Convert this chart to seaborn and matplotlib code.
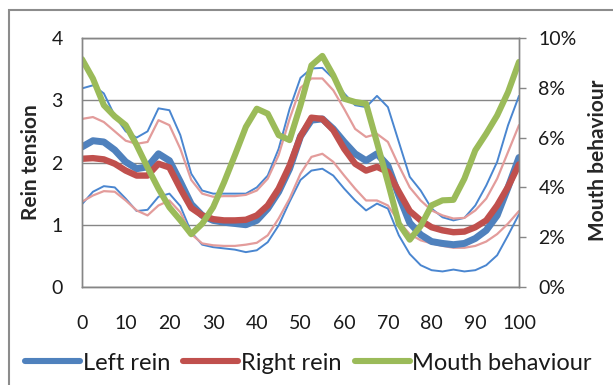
import matplotlib
matplotlib.use("Agg")
import matplotlib.pyplot as plt
from matplotlib.lines import Line2D
from matplotlib.patches import Rectangle
from matplotlib.ticker import PercentFormatter
import seaborn as sns

# stride position (% of cycle)
stride = [0, 2.5, 5, 7.5, 10, 12.5, 15, 17.5, 20, 22.5, 25, 27.5, 30, 32.5, 35, 37.5,
          40, 42.5, 45, 47.5, 50, 52.5, 55, 57.5, 60, 62.5, 65, 67.5, 70, 72.5, 75,
          77.5, 80, 82.5, 85, 87.5, 90, 92.5, 95, 97.5, 100]

# rein tension, mean and +/- band
left_mean = [2.25, 2.35, 2.33, 2.2, 2.01, 1.9, 1.93, 2.14, 2.03, 1.69, 1.33, 1.15, 1.07, 1.04,
             1.02, 1.0, 1.07, 1.26, 1.53, 1.9, 2.42, 2.68, 2.70, 2.54, 2.33, 2.14, 2.03, 2.14,
             1.95, 1.47, 1.03, 0.84, 0.73, 0.70, 0.68, 0.70, 0.78, 0.91, 1.15, 1.6, 2.08]
left_upper = [3.19, 3.24, 3.11, 2.75, 2.5, 2.4, 2.5, 2.87, 2.84, 2.44, 1.82, 1.55, 1.5, 1.5,
              1.5, 1.5, 1.6, 1.79, 2.22, 2.86, 3.36, 3.51, 3.52, 3.35, 3.11, 2.92, 2.89, 3.07,
              2.89, 2.33, 1.77, 1.55, 1.26, 1.12, 1.07, 1.11, 1.31, 1.63, 2.01, 2.6, 3.07]
left_lower = [1.33, 1.53, 1.62, 1.6, 1.42, 1.22, 1.24, 1.45, 1.5, 1.3, 0.88, 0.68, 0.64, 0.62,
              0.6, 0.56, 0.59, 0.72, 0.99, 1.37, 1.72, 1.87, 1.9, 1.79, 1.58, 1.39, 1.23, 1.34,
              1.26, 0.83, 0.53, 0.35, 0.27, 0.25, 0.28, 0.25, 0.27, 0.35, 0.51, 0.83, 1.17]
right_mean = [2.06, 2.07, 2.05, 1.98, 1.87, 1.79, 1.79, 1.98, 1.92, 1.58, 1.27, 1.15, 1.09, 1.07,
              1.07, 1.08, 1.15, 1.31, 1.58, 1.95, 2.42, 2.72, 2.70, 2.52, 2.22, 1.98, 1.87, 1.93,
              1.85, 1.53, 1.22, 1.07, 0.96, 0.91, 0.88, 0.89, 0.96, 1.07, 1.31, 1.61, 1.97]
right_upper = [2.7, 2.73, 2.65, 2.5, 2.35, 2.3, 2.33, 2.68, 2.6, 2.22, 1.72, 1.5, 1.45, 1.46,
               1.46, 1.48, 1.55, 1.74, 2.12, 2.7, 3.2, 3.35, 3.35, 3.16, 2.86, 2.54, 2.41, 2.46,
               2.33, 1.95, 1.6, 1.39, 1.23, 1.15, 1.1, 1.11, 1.23, 1.42, 1.74, 2.17, 2.6]
right_lower = [1.37, 1.47, 1.54, 1.53, 1.39, 1.23, 1.15, 1.31, 1.39, 1.2, 0.85, 0.7, 0.67, 0.66,
               0.66, 0.68, 0.71, 0.83, 1.1, 1.42, 1.82, 2.09, 2.14, 2.01, 1.79, 1.58, 1.39, 1.39,
               1.31, 1.05, 0.85, 0.75, 0.7, 0.66, 0.63, 0.63, 0.66, 0.73, 0.85, 1.02, 1.22]

# mouth behaviour (% of time)
mouth = [9.15, 8.37, 7.3, 6.85, 6.5, 5.7, 4.8, 3.95, 3.2, 2.68, 2.12, 2.54, 3.2, 4.2, 5.3, 6.43,
         7.16, 6.96, 6.1, 5.9, 7.3, 8.9, 9.28, 8.5, 7.56, 7.43, 7.36, 5.8, 4.2, 2.54, 1.9, 2.45,
         3.28, 3.48, 3.5, 4.35, 5.49, 6.16, 6.89, 7.83, 9.04]

x_ticks = [0, 10, 20, 30, 40, 50, 60, 70, 80, 90, 100]
labels = ['Left rein', 'Right rein', 'Mouth behaviour']

BLUE = '#4F81BD'
RED = '#C0504D'
GREEN = '#9BBB59'
THIN_BLUE = '#4A86D0'
PINK = '#E39C9B'
GREY = '#868686'

sns.set_style('white')
plt.rcParams['font.family'] = ['Lato', 'DejaVu Sans']
plt.rcParams['text.color'] = '#1a1a1a'

W, H = 613, 385
fig = plt.figure(figsize=(W / 100, H / 100), dpi=100)
ax = fig.add_axes([82 / W, 1 - 287 / H, (519 - 82) / W, (287 - 38) / H])

# thin band lines first, thick means on top
sns.lineplot(x=stride, y=left_upper, ax=ax, color=THIN_BLUE, lw=1.4)
sns.lineplot(x=stride, y=left_lower, ax=ax, color=THIN_BLUE, lw=1.4)
sns.lineplot(x=stride, y=right_upper, ax=ax, color=PINK, lw=1.6)
sns.lineplot(x=stride, y=right_lower, ax=ax, color=PINK, lw=1.6)
sns.lineplot(x=stride, y=left_mean, ax=ax, color=BLUE, lw=5)
sns.lineplot(x=stride, y=right_mean, ax=ax, color=RED, lw=4.6)

ax.set_xlim(0, 100)
ax.set_ylim(0, 4)
ax.set_xticks(x_ticks)
ax.set_yticks([0, 1, 2, 3, 4])
ax.grid(axis='y', color=GREY, lw=1)
ax.grid(axis='x', visible=False)
ax.tick_params(axis='y', length=0, pad=14, labelsize=14, labelcolor='#1a1a1a')
ax.tick_params(axis='x', length=0, pad=20, labelsize=14, labelcolor='#1a1a1a')
for s in ax.spines.values():
    s.set_color(GREY)
    s.set_linewidth(1)
ax.set_xlabel('')
ax.set_ylabel('Rein tension', fontsize=15, fontweight='bold')
ax.yaxis.set_label_coords(-0.093, 0.50)

ax2 = ax.twinx()
sns.lineplot(x=stride, y=mouth, ax=ax2, color=GREEN, lw=4.4)
ax2.set_ylim(0, 10)
ax2.set_yticks([0, 2, 4, 6, 8, 10])
ax2.yaxis.set_major_formatter(PercentFormatter(xmax=100, decimals=0))
ax2.tick_params(axis='y', direction='out', length=5, width=1, color=GREY,
                pad=9, labelsize=14, labelcolor='#1a1a1a')
ax2.grid(False)
for s in ax2.spines.values():
    s.set_color(GREY)
    s.set_linewidth(1)
ax2.set_ylabel('Mouth behaviour', fontsize=15, fontweight='bold')
ax2.yaxis.set_label_coords(1.158, 0.508)

handles = [Line2D([], [], color=c, lw=4.4, solid_capstyle='round') for c in (BLUE, RED, GREEN)]
fs = 17
fig.legend(handles, labels, loc='center left', bbox_to_anchor=(25 / W, 1 - 363 / H),
           ncol=3, frameon=False, fontsize=fs, handlelength=55 / (fs / 0.72),
           handletextpad=0.12, columnspacing=0.55, borderpad=0, borderaxespad=0)

# outer chart border (cut off at right/bottom in the source)
fig.patches.append(Rectangle((9 / W, -0.05), 1.2, 1 - 10 / H + 0.05, transform=fig.transFigure,
                             fill=False, edgecolor='#8c8c8c', lw=1.5))

fig.savefig('out.png', dpi=100)
